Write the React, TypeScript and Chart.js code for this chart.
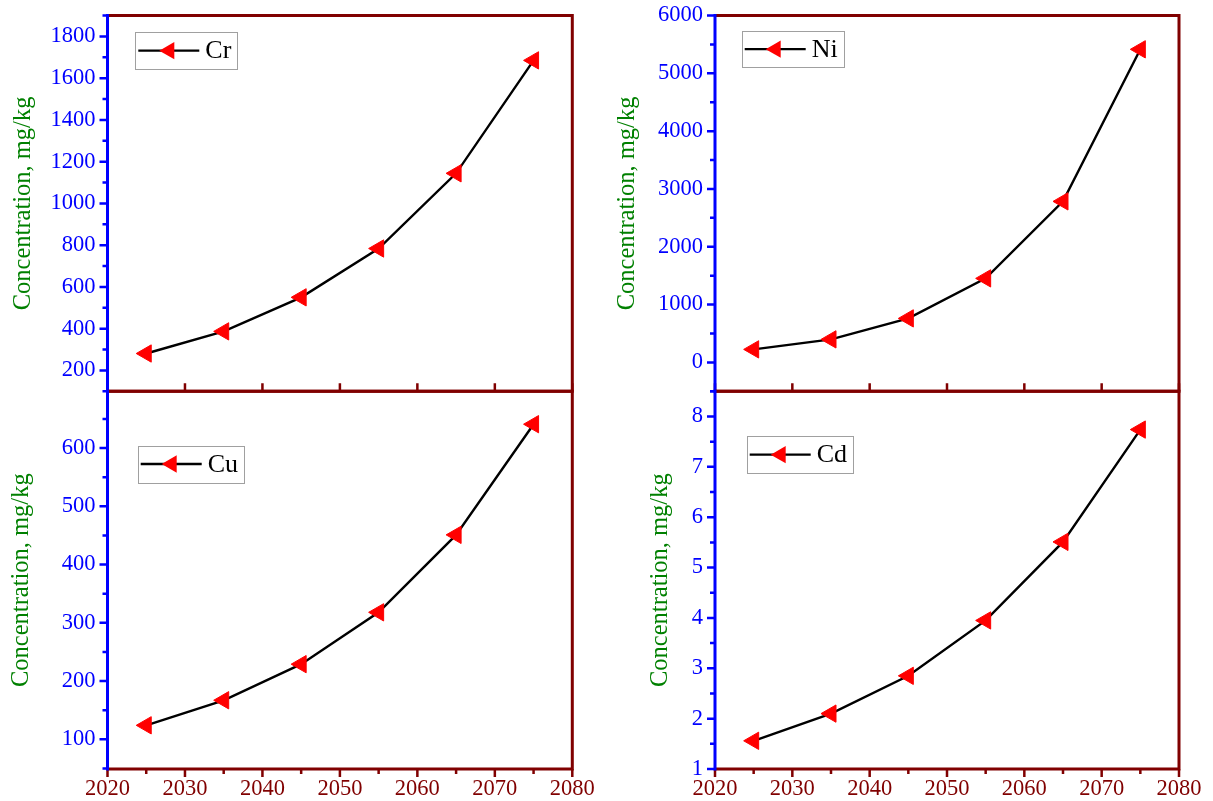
import React, { useEffect, useRef } from 'react';
import { Chart, registerables } from 'chart.js';

Chart.register(...registerables);

// ---------- data ----------
const years = [2025, 2035, 2045, 2055, 2065, 2075];
const crValues = [281, 387, 550, 784, 1144, 1685];
const niValues = [225, 398, 761, 1453, 2785, 5415];
const cuValues = [124, 167, 229, 318, 451, 641];
const cdValues = [1.56, 2.1, 2.85, 3.95, 5.51, 7.74];
const seriesLabels = ['Cr', 'Ni', 'Cu', 'Cd'];
const xRange = [2020, 2080];
const xTickValues = [2020, 2030, 2040, 2050, 2060, 2070, 2080];
const yRanges = [
  [100, 1900],
  [-500, 6000],
  [49, 697.5],
  [1, 8.5],
];
const crTicks = [200, 400, 600, 800, 1000, 1200, 1400, 1600, 1800];
const niTicks = [0, 1000, 2000, 3000, 4000, 5000, 6000];
const cuTicks = [100, 200, 300, 400, 500, 600];
const cdTicks = [1, 2, 3, 4, 5, 6, 7, 8];
const yTickValues = [crTicks, niTicks, cuTicks, cdTicks];
const yAxisTitle = 'Concentration, mg/kg';

// ---------- styles / layout ----------
const RED = '#800000';
const BLUE = '#0000ff';
const GREEN = '#008000';
const FONT = "'Liberation Serif', 'Times New Roman', Times, serif";
const TICK_SIZE = 22.5;
const TITLE_SIZE = 24.5;

type Layout = {
  area: [number, number, number, number];
  showX: boolean;
  titleX: number;
  legend: [number, number, number];
};

const layouts: Layout[] = [
  { area: [107.5, 15.5, 572.3, 391.3], showX: false, titleX: 23.5, legend: [27.8, 16.8, 36.7] },
  { area: [715, 15.5, 1179, 391.3], showX: false, titleX: 628, legend: [26.7, 15.5, 36.3] },
  { area: [107.5, 391.3, 572.3, 769], showX: true, titleX: 22, legend: [30.2, 54.4, 36.6] },
  { area: [715, 391.3, 1179, 769], showX: true, titleX: 661, legend: [31.7, 44.7, 37.3] },
];

const allValues = [crValues, niValues, cuValues, cdValues];

const framePlugin = {
  id: 'frame',
  afterDraw(chart: any) {
    const cfg = chart.options.plugins.frame;
    const { ctx, chartArea: a, scales } = chart;
    const xs = scales.x;
    const ys = scales.y;
    ctx.save();
    ctx.lineCap = 'butt';

    // x ticks
    const xt: number[] = xs.ticks.map((t: any) => t.value);
    const xStepV = xt.length > 1 ? xt[1] - xt[0] : 1;
    ctx.strokeStyle = RED;
    ctx.lineWidth = 2.5;
    const dir = cfg.showX ? 1 : -1;
    ctx.beginPath();
    xt.forEach((v) => {
      const p = xs.getPixelForValue(v);
      ctx.moveTo(p, a.bottom);
      ctx.lineTo(p, a.bottom + dir * 8);
    });
    if (cfg.showX) {
      for (let v = xt[0] + xStepV / 2; v < xs.max; v += xStepV) {
        const p = xs.getPixelForValue(v);
        ctx.moveTo(p, a.bottom);
        ctx.lineTo(p, a.bottom + 5);
      }
    }
    ctx.stroke();

    // y ticks
    const yt: number[] = ys.ticks.map((t: any) => t.value);
    const yStepV = yt.length > 1 ? yt[1] - yt[0] : 1;
    ctx.strokeStyle = BLUE;
    ctx.beginPath();
    yt.forEach((v) => {
      const p = ys.getPixelForValue(v);
      ctx.moveTo(a.left, p);
      ctx.lineTo(a.left - 8, p);
    });
    const eps = yStepV * 1e-6;
    let v0 = yt[0] - yStepV / 2;
    while (v0 - yStepV >= ys.min - eps) v0 -= yStepV;
    for (let v = v0; v <= ys.max + eps; v += yStepV) {
      if (v < ys.min - eps) continue;
      const p = ys.getPixelForValue(v);
      ctx.moveTo(a.left, p);
      ctx.lineTo(a.left - 5, p);
    }
    ctx.stroke();

    // frame
    ctx.strokeStyle = RED;
    ctx.lineWidth = 3;
    ctx.beginPath();
    ctx.moveTo(a.left, a.top);
    ctx.lineTo(a.right, a.top);
    ctx.lineTo(a.right, a.bottom);
    ctx.lineTo(a.left, a.bottom);
    ctx.stroke();
    ctx.strokeStyle = BLUE;
    ctx.beginPath();
    ctx.moveTo(a.left, a.top - 1.5);
    ctx.lineTo(a.left, a.bottom + 1.5);
    ctx.stroke();

    // legend
    const [dx, dy, h] = cfg.legend;
    const ds = chart.data.datasets[0];
    ctx.font = `26px ${FONT}`;
    const tw = ctx.measureText(ds.label).width;
    const bx = a.left + dx;
    const by = a.top + dy;
    const w = 70 + tw + 6;
    ctx.fillStyle = '#ffffff';
    ctx.fillRect(bx, by, w, h);
    ctx.strokeStyle = '#a0a0a0';
    ctx.lineWidth = 1;
    ctx.strokeRect(Math.round(bx) + 0.5, Math.round(by) + 0.5, Math.round(w), Math.round(h));
    const cy = by + h / 2;
    ctx.strokeStyle = ds.borderColor;
    ctx.lineWidth = ds.borderWidth;
    ctx.beginPath();
    ctx.moveTo(bx + 3, cy);
    ctx.lineTo(bx + 64, cy);
    ctx.stroke();
    const cx = bx + 34;
    const r = ds.pointRadius;
    ctx.fillStyle = ds.pointBackgroundColor;
    ctx.beginPath();
    ctx.moveTo(cx - r, cy);
    ctx.lineTo(cx + r / 2, cy - (r * Math.sqrt(3)) / 2);
    ctx.lineTo(cx + r / 2, cy + (r * Math.sqrt(3)) / 2);
    ctx.closePath();
    ctx.fill();
    ctx.fillStyle = '#000000';
    ctx.textBaseline = 'middle';
    ctx.textAlign = 'left';
    ctx.fillText(ds.label, bx + 70, cy + 1);
    ctx.restore();
  },
};

function Panel({ idx }: { idx: number }) {
  const ref = useRef<HTMLCanvasElement | null>(null);
  const lay = layouts[idx];
  const [l, t, r, b] = lay.area;
  const canvasLeft = Math.floor(l) - 107;
  const canvasTop = Math.floor(t) - 12;
  const width = Math.ceil(r) + 30 - canvasLeft;
  const height = lay.showX ? 801 - canvasTop : Math.ceil(b) + 4 - canvasTop;
  const YW = l - canvasLeft;
  const PT = t - canvasTop;
  const PR = width - (r - canvasLeft);
  const XH = lay.showX ? 26 : 0;
  const PB = height - (b - canvasTop) - XH;

  useEffect(() => {
    const canvas = ref.current;
    if (!canvas) return;
    const titleLH = TITLE_SIZE * 1.2;
    const chart = new Chart(canvas, {
      type: 'line',
      data: {
        datasets: [
          {
            label: seriesLabels[idx],
            data: years.map((x, i) => ({ x, y: allValues[idx][i] })),
            borderColor: '#000000',
            borderWidth: 2.4,
            pointStyle: 'triangle',
            pointRotation: -90,
            pointRadius: 10,
            pointHoverRadius: 10,
            pointBackgroundColor: '#ff0000',
            pointBorderColor: '#ff0000',
            pointBorderWidth: 1,
            tension: 0,
            fill: false,
          } as any,
        ],
      },
      options: {
        animation: false,
        responsive: false,
        maintainAspectRatio: false,
        events: [],
        layout: { autoPadding: false, padding: { left: 0, top: PT, right: PR, bottom: PB } },
        plugins: {
          legend: { display: false },
          tooltip: { enabled: false },
          frame: { showX: lay.showX, legend: lay.legend },
        } as any,
        scales: {
          x: {
            type: 'linear',
            min: xRange[0],
            max: xRange[1],
            grid: { display: false, drawTicks: false },
            border: { display: false },
            ticks: {
              display: lay.showX,
              padding: 7,
              color: RED,
              font: { family: FONT, size: TICK_SIZE },
              callback: (v: any) => String(v),
              maxRotation: 0,
              autoSkip: false,
            },
            afterBuildTicks: (s: any) => {
              s.ticks = xTickValues.map((v) => ({ value: v }));
            },
            afterFit: (s: any) => {
              s.height = XH;
              s.paddingLeft = 0;
              s.paddingRight = 0;
            },
          },
          y: {
            type: 'linear',
            min: yRanges[idx][0],
            max: yRanges[idx][1],
            grid: { display: false, drawTicks: false },
            border: { display: false },
            ticks: {
              padding: 12,
              color: BLUE,
              font: { family: FONT, size: TICK_SIZE },
              callback: (v: any) => String(v),
              autoSkip: false,
            },
            afterBuildTicks: (s: any) => {
              s.ticks = yTickValues[idx].map((v) => ({ value: v }));
            },
            title: {
              display: true,
              text: yAxisTitle,
              color: GREEN,
              font: { family: FONT, size: TITLE_SIZE },
              padding: { top: lay.titleX - canvasLeft - titleLH / 2, bottom: 0 },
            },
            afterFit: (s: any) => {
              s.width = YW;
              s.paddingTop = 0;
              s.paddingBottom = 0;
            },
          },
        },
      },
      plugins: [framePlugin],
    });
    return () => chart.destroy();
  }, [idx]);

  return (
    <canvas
      ref={ref}
      width={width}
      height={height}
      style={{ position: 'absolute', left: canvasLeft, top: canvasTop, width, height }}
    />
  );
}

export default function App() {
  return (
    <div
      style={{
        position: 'absolute',
        left: 0,
        top: 0,
        width: 1213,
        height: 801,
        overflow: 'hidden',
        background: '#ffffff',
      }}
    >
      {layouts.map((_, i) => (
        <Panel key={i} idx={i} />
      ))}
    </div>
  );
}
